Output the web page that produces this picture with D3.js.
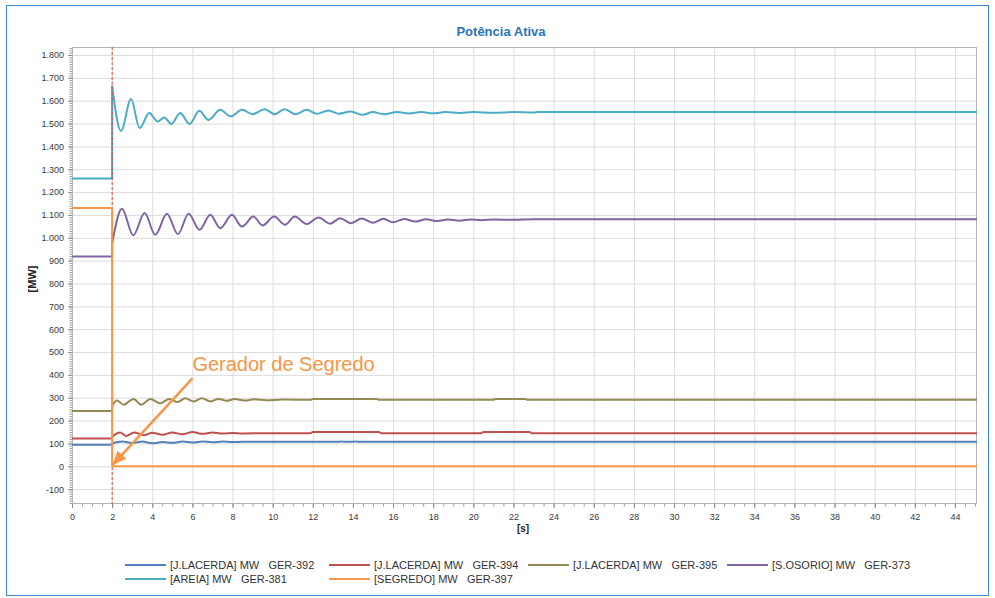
<!DOCTYPE html>
<html>
<head>
<meta charset="utf-8">
<script src="https://cdn.jsdelivr.net/npm/d3@7"></script>
<style>
  html, body { margin: 0; padding: 0; background: #fff; }
  svg { display: block; font-family: Arial, "Liberation Sans", sans-serif; }
  .legend text { white-space: pre; }
</style>
</head>
<body>
<svg id="chart" width="995" height="598"></svg>
<script>
// ---- data -------------------------------------------------------------
const chartTitle = "Potência Ativa";
const yAxisLabel = "[MW]";
const xAxisLabel = "[s]";
const xTicks = d3.range(0, 45, 2);          // 0 … 44 s
const yTicks = d3.range(-100, 1801, 100);    // -100 … 1.800 MW
const eventTime = 2;                        // disturbance instant [s]
const timeEnd = 45.1;

const seriesNames = [
  "[J.LACERDA] MW   GER-392",
  "[J.LACERDA] MW   GER-394",
  "[J.LACERDA] MW   GER-395",
  "[S.OSORIO] MW   GER-373",
  "[AREIA] MW   GER-381",
  "[SEGREDO] MW   GER-397"
];
const seriesColors = ["#4f81bd", "#c0504d", "#948a54", "#8064a2", "#4bacc6", "#f79646"];

// [t (s), P (MW)] – first three points: pre-fault level, step at eventTime
const jLacerda392 = [[0,94],[2,94],[2,100],[2.5,108],[3.0,102],[3.5,108],[4.0,101],[4.5,106],[5.0,103],
  [5.5,108],[6.0,104],[6.5,109],[7.0,105],[7.5,108],[8.0,106],[8.5,107],[13.3,107],[13.4,109],[13.6,107],
  [14.0,107],[14.1,109],[14.3,107],[45.1,107]];
const jLacerda394 = [[0,122],[2,122],[2,130],[2.4,148],[2.7,133],[3.1,148],[3.6,136],[4.0,147],[4.5,138],
  [5.0,148],[5.5,140],[6.0,150],[6.5,142],[7.0,148],[7.5,143],[8.0,146],[8.5,144],[11.9,145],[12.0,150],
  [15.3,150],[15.4,145],[20.4,145],[20.5,150],[22.8,150],[22.9,145],[45.1,145]];
const jLacerda395 = [[0,242],[2,242],[2,265],[2.24,288],[2.57,269],[3.07,295],[3.45,269],[3.9,295],[4.4,276],
  [4.85,294],[5.27,281],[5.64,298],[6.06,284],[6.48,298],[6.9,284],[7.3,295],[7.7,287],[8.1,294],[8.6,288],
  [9.1,293],[9.7,289],[10.5,292],[11.9,291],[12.0,295],[15.2,295],[15.3,291],[21.0,291],[21.1,295],
  [22.6,295],[22.7,291],[45.1,291]];
const sOsorio373 = [[0,918],[2,918],[2,975],[2.49,1127],[3.05,1011],[3.62,1108],[4.15,1013],[4.73,1105],
  [5.28,1016],[5.81,1105],[6.36,1035],[6.89,1101],[7.39,1042],[7.97,1101],[8.47,1049],[9.04,1093],[9.5,1054],
  [10.07,1093],[10.62,1057],[11.1,1093],[11.7,1060],[12.28,1089],[12.86,1062],[13.36,1086],[13.9,1064],
  [14.44,1084],[15.0,1066],[15.52,1083],[16.0,1068],[16.55,1082],[17.1,1071],[17.65,1081],[18.2,1073],
  [18.75,1080],[19.3,1075],[19.85,1080],[20.4,1077],[21.0,1080],[22.0,1079],[23.0,1081],[45.1,1081]];
const areia381 = [[0,1260],[2,1260],[2,1665],[2.44,1467],[2.94,1607],[3.37,1480],[3.85,1546],[4.27,1509],
  [4.6,1527],[4.95,1498],[5.39,1546],[5.86,1498],[6.34,1556],[6.80,1516],[7.39,1560],[7.9,1531],[8.47,1560],
  [9.01,1541],[9.6,1563],[10.1,1541],[10.6,1563],[11.12,1541],[11.7,1560],[12.2,1543],[12.78,1557],
  [13.3,1543],[13.9,1553],[14.45,1538],[15.0,1550],[15.52,1541],[16.2,1550],[16.8,1544],[17.4,1550],
  [18.0,1545],[18.6,1550],[19.3,1546],[20.0,1550],[21.0,1547],[22.0,1550],[23.0,1548],[23.2,1550],[45.1,1550]];
const segredo397 = [[0,1130],[2,1130],[2,0],[45.1,0]];

const seriesData = [jLacerda392, jLacerda394, jLacerda395, sOsorio373, areia381, segredo397];

const annotationText = "Gerador de Segredo";

// ---- layout ------------------------------------------------------------
const svg = d3.select("#chart");
const W = 995, H = 598;
const plot = { left: 72, right: 977, top: 47, bottom: 504 };

const x = d3.scaleLinear().domain([0, timeEnd]).range([plot.left, plot.right]);
const y = d3.scaleLinear().domain([-165, 1835]).range([plot.bottom, plot.top]);

const ptBR = d3.formatLocale({ decimal: ",", thousands: ".", grouping: [3], currency: ["R$", ""], minus: "-" });
const fmtY = ptBR.format(",");

// outer frame
svg.append("rect")
  .attr("x", 6.5).attr("y", 5.5).attr("width", W - 13).attr("height", H - 8)
  .attr("fill", "#fff").attr("stroke", "#3b86cc").attr("stroke-width", 1);

// title
svg.append("text")
  .attr("x", 501).attr("y", 36)
  .attr("text-anchor", "middle")
  .attr("font-size", 13).attr("font-weight", "bold")
  .attr("fill", "#2a74b9")
  .text(chartTitle);

// plot background
svg.append("rect")
  .attr("x", plot.left).attr("y", plot.top)
  .attr("width", plot.right - plot.left).attr("height", plot.bottom - plot.top)
  .attr("fill", "#fff");

// grid
const grid = svg.append("g").attr("class", "grid");
grid.append("g")
  .attr("transform", `translate(0,${plot.bottom})`)
  .call(d3.axisBottom(x).tickValues(xTicks).tickSize(-(plot.bottom - plot.top)).tickFormat(""))
  .call(g => g.select(".domain").remove())
  .call(g => g.selectAll("line").attr("stroke", "#dcdcdc"));
grid.append("g")
  .attr("transform", `translate(${plot.left},0)`)
  .call(d3.axisLeft(y).tickValues(yTicks).tickSize(-(plot.right - plot.left)).tickFormat(""))
  .call(g => g.select(".domain").remove())
  .call(g => g.selectAll("line").attr("stroke", "#dcdcdc"));

// minor ticks
svg.append("g")
  .attr("transform", `translate(${plot.left},0)`)
  .call(d3.axisLeft(y).tickValues(d3.range(-160, 1831, 10)).tickSize(2.5).tickFormat(""))
  .call(g => g.select(".domain").remove())
  .call(g => g.selectAll("line").attr("stroke", "#9a9a9a"));
svg.append("g")
  .attr("transform", `translate(0,${plot.bottom})`)
  .call(d3.axisBottom(x).tickValues(d3.range(0, 45.1, 0.5)).tickSize(2.5).tickFormat(""))
  .call(g => g.select(".domain").remove())
  .call(g => g.selectAll("line").attr("stroke", "#9a9a9a"));

// major axes
svg.append("g")
  .attr("transform", `translate(${plot.left},0)`)
  .call(d3.axisLeft(y).tickValues(yTicks).tickFormat(fmtY).tickSize(4).tickPadding(4))
  .call(g => g.select(".domain").remove())
  .call(g => g.selectAll("line").attr("stroke", "#8a8a8a"))
  .call(g => g.selectAll("text").attr("font-size", 9).attr("fill", "#3a3a3a")
    .attr("font-family", "Arial, 'Liberation Sans', sans-serif"));
svg.append("g")
  .attr("transform", `translate(0,${plot.bottom})`)
  .call(d3.axisBottom(x).tickValues(xTicks).tickSize(4).tickPadding(6))
  .call(g => g.select(".domain").remove())
  .call(g => g.selectAll("line").attr("stroke", "#8a8a8a"))
  .call(g => g.selectAll("text").attr("font-size", 9).attr("fill", "#3a3a3a")
    .attr("font-family", "Arial, 'Liberation Sans', sans-serif"));

// plot frame
svg.append("rect")
  .attr("x", plot.left + 0.5).attr("y", plot.top + 0.5)
  .attr("width", plot.right - plot.left - 1).attr("height", plot.bottom - plot.top - 1)
  .attr("fill", "none").attr("stroke", "#b4b4b4");

// axis titles
svg.append("text")
  .attr("transform", `translate(36,279) rotate(-90)`)
  .attr("text-anchor", "middle")
  .attr("font-size", 11).attr("font-weight", "bold").attr("fill", "#222")
  .text(yAxisLabel);
svg.append("text")
  .attr("x", 523).attr("y", 532)
  .attr("text-anchor", "middle")
  .attr("font-size", 10).attr("font-weight", "bold").attr("fill", "#222")
  .text(xAxisLabel);

// clip
svg.append("clipPath").attr("id", "plotClip")
  .append("rect")
  .attr("x", plot.left).attr("y", plot.top)
  .attr("width", plot.right - plot.left).attr("height", plot.bottom - plot.top);

const lineLinear = d3.line().x(d => x(d[0])).y(d => y(d[1]));
const lineSmooth = d3.line().x(d => x(d[0])).y(d => y(d[1])).curve(d3.curveMonotoneX);

const seriesG = svg.append("g").attr("clip-path", "url(#plotClip)");

function drawSeries(i) {
  const pts = seriesData[i];
  const g = seriesG.append("g").attr("fill", "none")
    .attr("stroke", seriesColors[i]).attr("stroke-width", 2)
    .attr("stroke-linejoin", "round");
  // steady state before the event and the step itself
  g.append("path").attr("d", lineLinear(pts.slice(0, 3)));
  // dynamic response after the event
  g.append("path").attr("d", lineSmooth(pts.slice(2)));
}

[0, 1, 2, 3, 4].forEach(drawSeries);

// event marker
seriesG.append("line")
  .attr("x1", x(eventTime)).attr("x2", x(eventTime))
  .attr("y1", plot.top).attr("y2", plot.bottom)
  .attr("stroke", "#e0453a").attr("stroke-width", 1)
  .attr("stroke-dasharray", "3,2");

drawSeries(5);

// annotation
const defs = svg.append("defs");
defs.append("marker")
  .attr("id", "arrowHead")
  .attr("markerUnits", "userSpaceOnUse")
  .attr("viewBox", "0 0 14 12")
  .attr("refX", 13).attr("refY", 6)
  .attr("markerWidth", 14).attr("markerHeight", 12)
  .attr("orient", "auto")
  .append("path").attr("d", "M0,0 L14,6 L0,12 Z").attr("fill", "#f79646");

const tail = [6, 385];
const tip = [eventTime, 0];
svg.append("line")
  .attr("x1", x(tail[0])).attr("y1", y(tail[1]))
  .attr("x2", x(tip[0]) + 1).attr("y2", y(tip[1]) - 2)
  .attr("stroke", "#f79646").attr("stroke-width", 2.5)
  .attr("marker-end", "url(#arrowHead)");
svg.append("text")
  .attr("x", x(tail[0])).attr("y", y(tail[1]) - 7)
  .attr("font-size", 20).attr("fill", "#f79646")
  .text(annotationText);

// legend
const legendCols = [170, 374, 573, 772];
const legendRows = [565, 579];
const legend = svg.append("g").attr("class", "legend");
seriesNames.forEach((name, i) => {
  const col = i < 4 ? i : i - 4;
  const row = i < 4 ? 0 : 1;
  const tx = legendCols[col], ty = legendRows[row];
  legend.append("line")
    .attr("x1", tx - 45).attr("x2", tx - 4)
    .attr("y1", ty).attr("y2", ty)
    .attr("stroke", seriesColors[i]).attr("stroke-width", 2);
  legend.append("text")
    .attr("x", tx).attr("y", ty).attr("dy", "0.35em")
    .attr("font-size", 11).attr("fill", "#333")
    .text(name);
});
</script>
</body>
</html>
